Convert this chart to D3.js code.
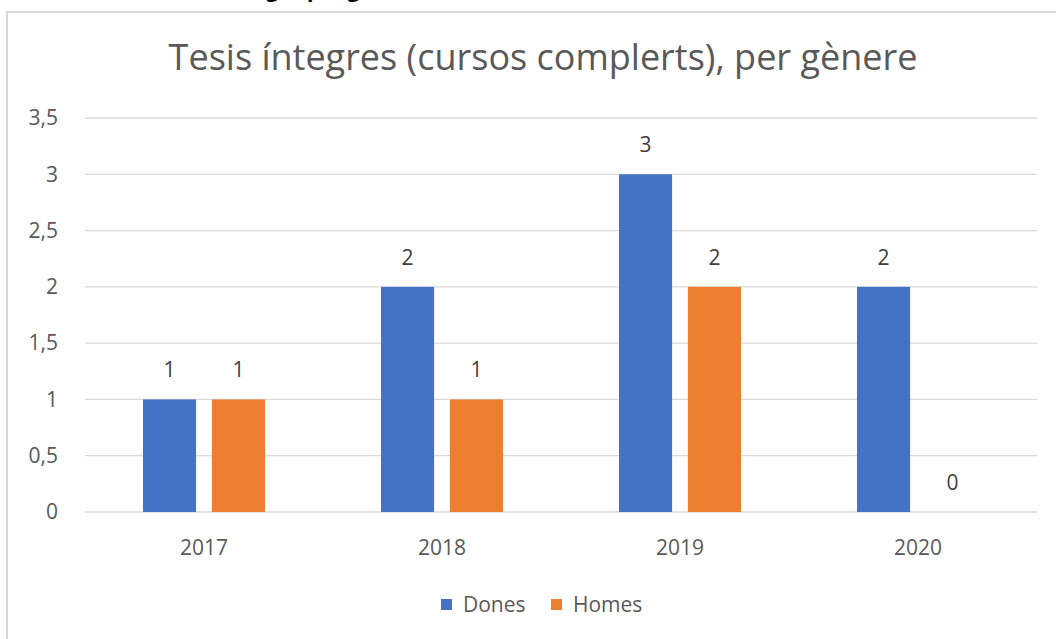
<!DOCTYPE html>
<html>
<head>
<meta charset="utf-8">
<script src="https://cdn.jsdelivr.net/npm/d3@7"></script>
<style>
  html, body { margin: 0; padding: 0; background: #fff; }
  svg { display: block; font-family: "Open Sans", sans-serif; }
</style>
</head>
<body>
<svg id="chart" width="1056" height="639"></svg>
<script>
const categories = ["2017", "2018", "2019", "2020"];
const seriesNames = ["Dones", "Homes"];
const dones = [1, 2, 3, 2];
const homes = [1, 1, 2, 0];
const yTicks = [0, 0.5, 1, 1.5, 2, 2.5, 3, 3.5];
const titleText = "Tesis íntegres (cursos complerts), per gènere";
const topCutText = "Tesis defensades a l'àmbit tecnològic, per gènere";
const colors = ["#4472C4", "#ED7D31"];

const svg = d3.select("#chart");
const W = 1056, H = 639;
svg.append("rect").attr("width", W).attr("height", H).attr("fill", "#fff");

// heading above the chart frame, cut off by the top edge (only descenders visible)
svg.append("text")
  .attr("x", 420).attr("y", -3)
  .attr("text-anchor", "end")
  .attr("font-weight", "bold")
  .attr("font-size", 21)
  .attr("fill", "#000")
  .text(topCutText);

// chart frame
svg.append("path")
  .attr("d", "M7,639 V12 H1056")
  .attr("fill", "none")
  .attr("stroke", "#d9d9d9")
  .attr("stroke-width", 2);

const x0 = d3.scaleBand().domain(categories).range([85, 1037]).paddingInner(0).paddingOuter(0);
const groupW = 122;
const x1 = d3.scaleBand().domain(seriesNames).range([0, groupW]).paddingInner(0.23);
const y = d3.scaleLinear().domain([0, 3.5]).range([512, 118]);

// gridlines
svg.append("g").selectAll("line").data(yTicks).join("line")
  .attr("x1", 85).attr("x2", 1037)
  .attr("y1", d => y(d)).attr("y2", d => y(d))
  .attr("stroke", "#d9d9d9").attr("stroke-width", 1.3);

// y tick labels
svg.append("g").selectAll("text").data(yTicks).join("text")
  .attr("x", 58).attr("y", d => y(d))
  .attr("dy", "0.35em")
  .attr("text-anchor", "end")
  .attr("font-size", 21)
  .attr("fill", "#595959")
  .text(d => d3.format("")(d).replace(".", ","));

// bars
const data = categories.map((c, i) => ({ cat: c, vals: [dones[i], homes[i]] }));
const groups = svg.append("g").selectAll("g").data(data).join("g")
  .attr("transform", d => `translate(${x0(d.cat) + (x0.bandwidth() - groupW) / 2},0)`);

groups.selectAll("rect").data(d => d.vals.map((v, j) => ({ v, s: seriesNames[j], j }))).join("rect")
  .attr("x", d => x1(d.s))
  .attr("width", x1.bandwidth())
  .attr("y", d => y(d.v))
  .attr("height", d => y(0) - y(d.v))
  .attr("fill", d => colors[d.j]);

groups.selectAll("text").data(d => d.vals.map((v, j) => ({ v, s: seriesNames[j], j }))).join("text")
  .attr("x", d => x1(d.s) + x1.bandwidth() / 2)
  .attr("y", d => y(d.v) - 22)
  .attr("text-anchor", "middle")
  .attr("font-size", 21)
  .attr("fill", "#404040")
  .text(d => d.v);

// x labels
svg.append("g").selectAll("text").data(categories).join("text")
  .attr("x", d => x0(d) + x0.bandwidth() / 2)
  .attr("y", 555)
  .attr("text-anchor", "middle")
  .attr("font-size", 21)
  .attr("fill", "#595959")
  .text(d => d);

// title
svg.append("text")
  .attr("x", 543).attr("y", 70)
  .attr("text-anchor", "middle")
  .attr("font-size", 36)
  .attr("fill", "#595959")
  .text(titleText);

// legend
const legendX = [441, 551];
const leg = svg.append("g").selectAll("g").data(seriesNames).join("g")
  .attr("transform", (d, i) => `translate(${legendX[i]},0)`);
leg.append("rect").attr("x", 0).attr("y", 599).attr("width", 11).attr("height", 11)
  .attr("fill", (d, i) => colors[i]);
leg.append("text").attr("x", 22).attr("y", 612)
  .attr("font-size", 21).attr("fill", "#595959")
  .text(d => d);
</script>
</body>
</html>
